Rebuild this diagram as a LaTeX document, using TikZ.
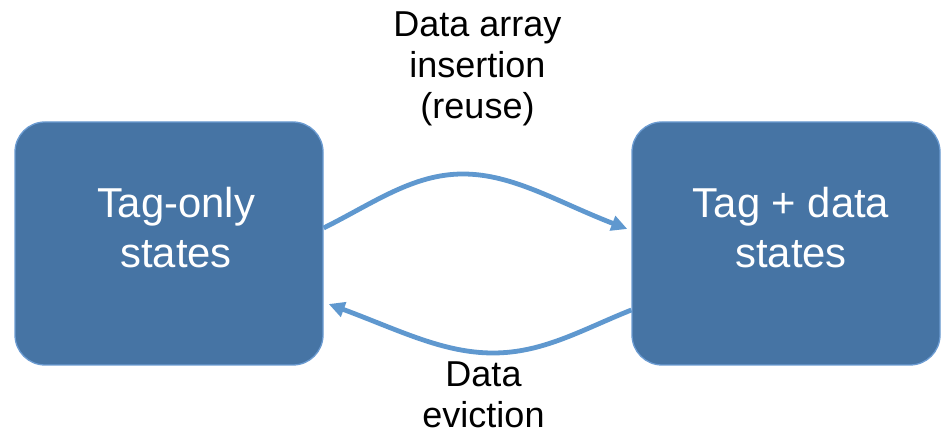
\documentclass[tikz,border=0pt]{standalone}
\usepackage{fontspec}
\setmainfont{Liberation Sans}
\usetikzlibrary{arrows.meta}
\definecolor{boxfill}{HTML}{4674A4}
\definecolor{boxedge}{HTML}{6B9BD1}
\definecolor{flow}{HTML}{5F98CF}
\begin{document}
\begin{tikzpicture}[x=1pt,y=1pt,
  statebox/.style={draw=boxedge, line width=1.3pt, fill=boxfill,
    rounded corners=30pt, minimum width=308pt, minimum height=243pt, inner sep=0pt},
  statetext/.style={text=white, align=center, inner sep=0pt,
    font=\fontsize{41.8}{50}\selectfont},
  flowlabel/.style={align=center, inner sep=0pt, font=\fontsize{36}{41}\selectfont},
  flowarrow/.style={draw=flow, line width=4.8pt,
    -{Triangle[length=16pt,width=15pt]}}]
\useasboundingbox (0,0) rectangle (941,435);

% the two groups of cache states
\node[statebox] (L) at (169,191.5) {};
\node[statebox] (R) at (786,191.5) {};
\node[statetext] (Ltext) at (176,207) {Tag-only\\states};
\node[statetext] (Rtext) at (791,207) {Tag + data\\states};

% turning points of the two transitions
\coordinate (topmid) at (463,261);
\coordinate (botmid) at (493,82);

% insertion: tag-only -> tag + data
\draw[flowarrow] ([yshift=15.5]L.east)
  .. controls +(50,25) and +(-50,0) .. (topmid)
  .. controls +(50,0) and +(-70,27) .. ([xshift=-4,yshift=14.5]R.west);

% eviction: tag + data -> tag-only
\draw[flowarrow] ([yshift=-66.5]R.west)
  .. controls +(-50,-20) and +(50,0) .. (botmid)
  .. controls +(-50,0) and +(70,-26) .. ([xshift=5,yshift=-60.5]L.east);

\node[flowlabel] (ins) at (477.5,366) {Data array\\insertion\\(reuse)};
\node[flowlabel] (evi) at (483.5,40.5) {Data\\eviction};
\end{tikzpicture}
\end{document}
